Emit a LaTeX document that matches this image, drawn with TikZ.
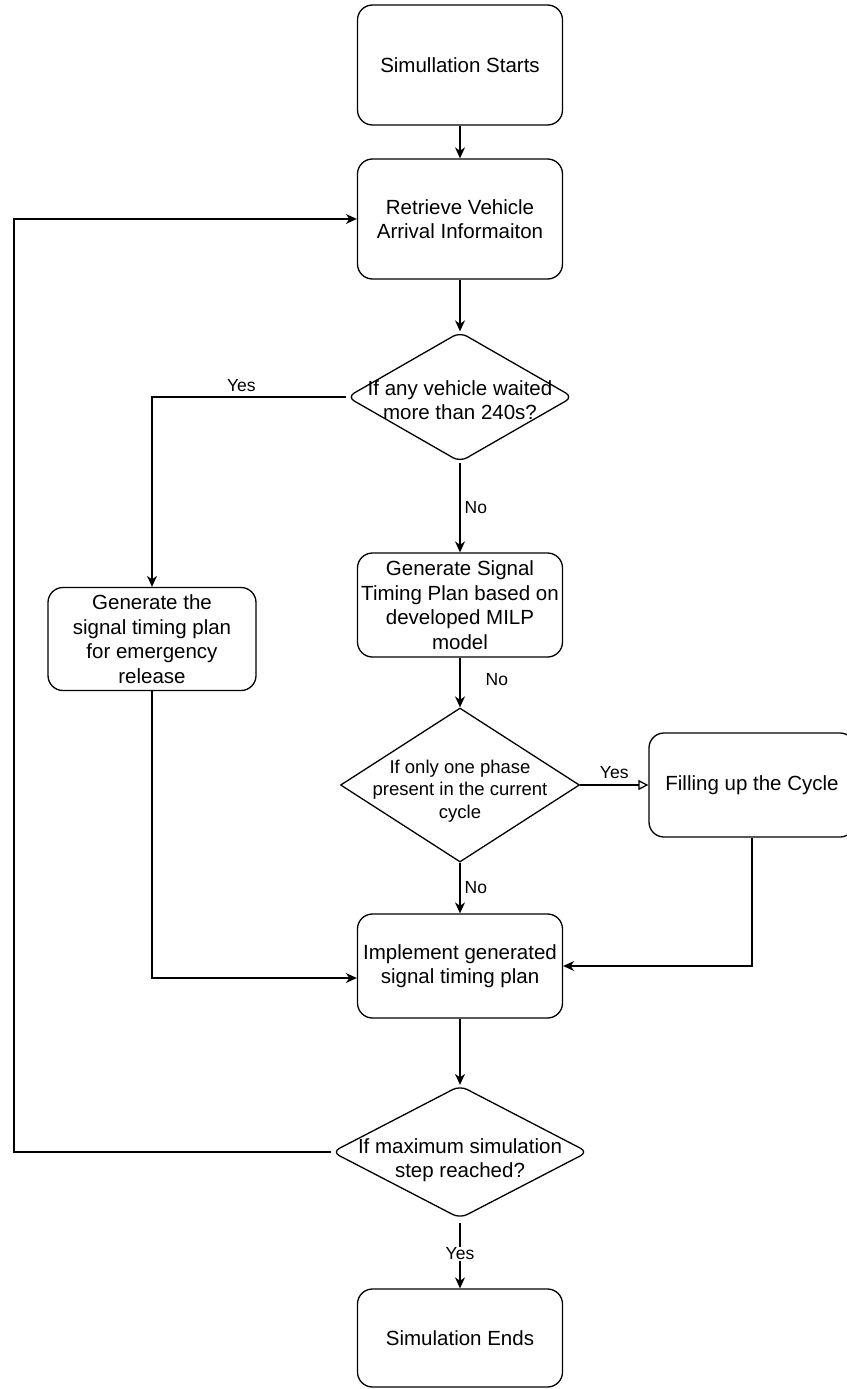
\documentclass[tikz,border=0pt]{standalone}
\usepackage{fontspec}
\setmainfont{Liberation Sans}
\usetikzlibrary{shapes.geometric,arrows.meta}

\begin{document}
\begin{tikzpicture}[x=1pt,y=-1pt,line width=1.3pt,
  >={Stealth[length=11pt,width=10pt,inset=3.5pt]},
  box/.style={draw,rounded corners=15pt,minimum width=205pt,minimum height=120pt,inner sep=0pt,align=center,font=\fontsize{20.5}{24.6}\selectfont},
  dec/.style={draw,diamond,inner sep=0pt},
  dectext/.style={align=center,font=\fontsize{20.5}{24.6}\selectfont},
  lbl/.style={font=\fontsize{17.5}{21}\selectfont,inner sep=1pt}]
\useasboundingbox (0,0) rectangle (846,1389);
% boxes on the main column
\node[box] (start) at (460,65) {Simullation Starts};
\node[box] (retr) at (460,219) {Retrieve Vehicle\\Arrival Informaiton};
\node[dec,rounded corners=8pt,minimum width=226pt,minimum height=130pt,
  label={[dectext,yshift=-3pt]center:{If any vehicle waited\\more than 240s?}}] (wait) at (460,397) {};
\node[box,minimum height=104pt] (milp) at (460,605) {Generate Signal\\Timing Plan based on\\developed MILP\\model};
\node[dec,minimum width=239pt,minimum height=154pt,
  label={[dectext,font=\fontsize{18.5}{22.5}\selectfont,yshift=-6pt]center:{If only one phase\\present in the current\\cycle}}] (phase) at (460,785) {};
\node[box,minimum height=104pt] (impl) at (460,966) {Implement generated\\signal timing plan};
\node[dec,rounded corners=8pt,minimum width=256pt,minimum height=133pt,
  label={[dectext,yshift=-8pt]center:{If maximum simulation\\step reached?}}] (maxstep) at (460,1152) {};
\node[box,minimum height=98pt] (end) at (460,1338) {Simulation Ends};
% side boxes
\node[box,minimum width=208pt,minimum height=103pt] (emerg) at (152,639) {Generate the\\signal timing plan\\for emergency\\release};
\node[box,minimum width=206pt,minimum height=104pt] (fill) at (752,785) {Filling up the Cycle};
\coordinate (loop) at (14,1152);
% connectors
\draw[->] (start) -- (retr);
\draw[->] (retr) -- (wait);
\draw[->] (wait.west) -| node[lbl,above,pos=.27,yshift=4pt]{Yes} (emerg.north);
\draw[->] (wait) -- node[lbl,right,xshift=3pt]{No} (milp);
\draw[->] (milp) -- node[lbl,right,xshift=24pt,yshift=3pt]{No} (phase);
\draw[-{Triangle[open,length=10pt,width=10pt]}] (phase) -- node[lbl,above,yshift=5pt]{Yes} (fill);
\draw[->] (phase) -- node[lbl,right,xshift=3pt]{No} (impl);
\draw[->] (fill.south) |- (impl.east);
\draw[->] (emerg.south) |- ([yshift=-12pt]impl.west);
\draw[->] (impl) -- (maxstep);
\draw[->] (maxstep.west) -- (loop) |- (retr.west);
\draw[->,shorten <=4pt] (maxstep) -- node[lbl,fill=white]{Yes} (end);
\end{tikzpicture}
\end{document}
